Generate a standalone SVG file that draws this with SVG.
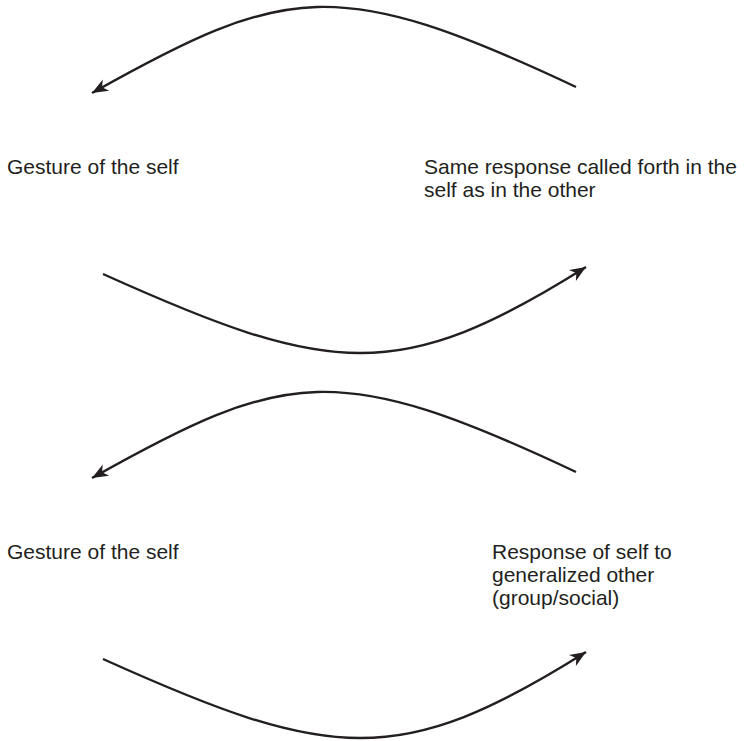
<svg xmlns="http://www.w3.org/2000/svg" width="744" height="741" viewBox="0 0 744 741">
  <style>
    .lbl { font-family: "Liberation Sans", Arial, Helvetica, sans-serif; font-size: 21px; fill: #231f20; }
    .arc { fill: none; stroke: #231f20; stroke-width: 2.4; }
  </style>
  <defs>
    <marker id="arrow" markerUnits="userSpaceOnUse" markerWidth="20" markerHeight="16" viewBox="-17 -8 19 16" refX="0" refY="0" orient="auto">
      <path d="M0,0 L-16,-6.5 L-11.5,0 L-16,6.5 Z" fill="#231f20"/>
    </marker>
  </defs>
  <rect width="744" height="741" fill="#ffffff"/>

  <g id="connectors">
    <path class="arc" d="M576,87 C337,-25.5 285.6,-15.8 92,93" marker-end="url(#arrow)"/>
    <path class="arc" d="M103,274 C331,376.8 399.3,384.3 586,267" marker-end="url(#arrow)"/>
    <g transform="translate(0,385)">
      <path class="arc" d="M576,87 C337,-25.5 285.6,-15.8 92,93" marker-end="url(#arrow)"/>
      <path class="arc" d="M103,274 C331,376.8 399.3,384.3 586,267" marker-end="url(#arrow)"/>
    </g>
  </g>

  <g id="gesture1">
    <text class="lbl" x="7" y="174">Gesture of the self</text>
  </g>
  <g id="response1">
    <text class="lbl" x="424" y="174">Same response called forth in the</text>
    <text class="lbl" x="424" y="197">self as in the other</text>
  </g>
  <g id="gesture2">
    <text class="lbl" x="7" y="559">Gesture of the self</text>
  </g>
  <g id="response2">
    <text class="lbl" x="492" y="559">Response of self to</text>
    <text class="lbl" x="492" y="582">generalized other</text>
    <text class="lbl" x="492" y="605">(group/social)</text>
  </g>
</svg>
